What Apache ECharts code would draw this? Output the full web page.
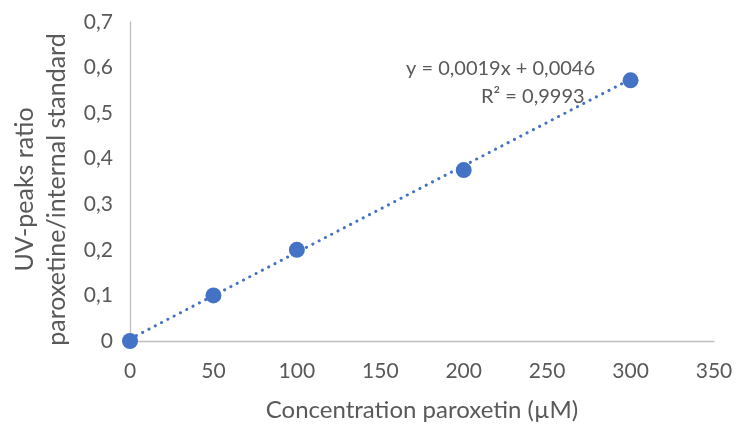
<!DOCTYPE html>
<html>
<head>
<meta charset="utf-8">
<script src="https://cdn.jsdelivr.net/npm/echarts@6/dist/echarts.min.js"></script>
<style>
  html, body { margin: 0; padding: 0; background: #fff; }
  #chart { width: 737px; height: 424px; }
</style>
</head>
<body>
<div id="chart"></div>
<script>
// Calibration data: concentration (µM) vs UV peak-area ratio
const concentrations = [0, 50, 100, 200, 300];
const peakRatios = [0, 0.1, 0.2, 0.375, 0.572];

// Linear fit reported on the chart
const slope = 0.0019;
const intercept = 0.0046;
const fitRange = [0, 300];
const equationText = 'y = 0,0019x + 0,0046';
const r2Text = 'R² = 0,9993';

const xTitle = 'Concentration paroxetin (µM)';
const yTitle = 'UV-peaks ratio\nparoxetine/internal standard';

const FONT = 'Lato, "Open Sans", sans-serif';
const TEXT = '#595959';
const BLUE = '#4472C4';

const points = concentrations.map((c, i) => [c, peakRatios[i]]);
const fitLine = fitRange.map(x => [x, slope * x + intercept]);
const comma = v => String(v).replace('.', ',');

const chart = echarts.init(document.getElementById('chart'));
chart.setOption({
  animation: false,
  grid: { left: 130, right: 23, top: 22, bottom: 83, outerBoundsMode: 'none', containLabel: false },
  xAxis: {
    type: 'value', min: 0, max: 350, interval: 50,
    name: xTitle, nameLocation: 'middle', nameGap: 57,
    nameTextStyle: { fontFamily: FONT, fontSize: 24, color: TEXT },
    axisLine: { show: true, lineStyle: { color: '#bfbfbf', width: 1.3 } },
    axisTick: { show: false },
    splitLine: { show: false },
    axisLabel: { fontFamily: FONT, fontSize: 21, color: TEXT, margin: 20 }
  },
  yAxis: {
    type: 'value', min: 0, max: 0.7, interval: 0.1,
    name: yTitle, nameLocation: 'middle', nameGap: 53,
    nameTextStyle: { fontFamily: FONT, fontSize: 25, color: TEXT, lineHeight: 32, padding: [0, 16, 0, 0] },
    axisLine: { show: true, lineStyle: { color: '#bfbfbf', width: 1.3 } },
    axisTick: { show: false },
    splitLine: { show: false },
    axisLabel: { fontFamily: FONT, fontSize: 21, color: TEXT, margin: 17, formatter: comma }
  },
  series: [
    {
      type: 'line', data: fitLine, showSymbol: false, silent: true,
      lineStyle: { color: BLUE, width: 3, type: [0.1, 7], cap: 'round' },
      z: 2
    },
    {
      type: 'scatter', data: points, symbol: 'circle', symbolSize: 16,
      itemStyle: { color: BLUE, opacity: 1 }, z: 3
    }
  ],
  graphic: [
    {
      type: 'text', left: 406, top: 59,
      style: { text: equationText, fontFamily: FONT, fontSize: 20, fill: TEXT }
    },
    {
      type: 'text', left: 481, top: 87,
      style: { text: r2Text, fontFamily: FONT, fontSize: 20, fill: TEXT }
    }
  ]
});
</script>
</body>
</html>
